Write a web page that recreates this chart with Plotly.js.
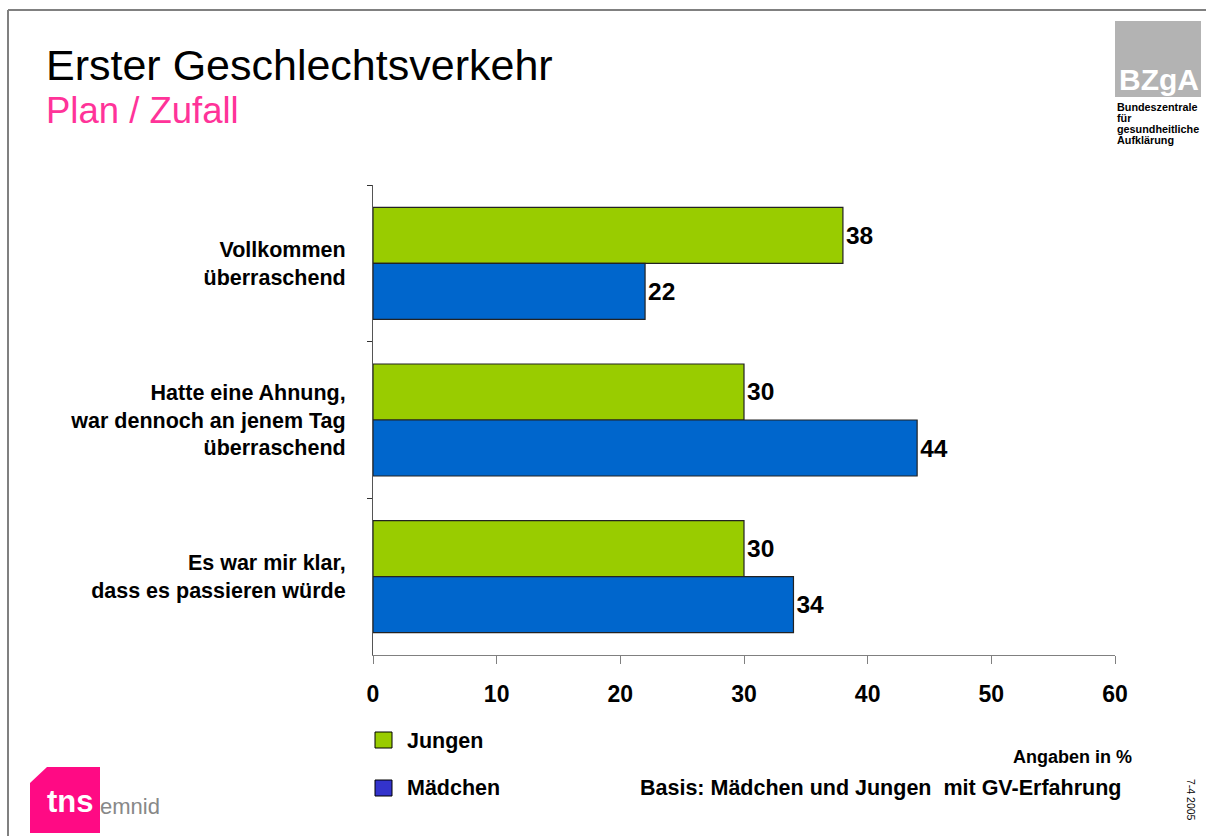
<!DOCTYPE html>
<html><head><meta charset="utf-8">
<script src="https://cdn.plot.ly/plotly-3.0.1.min.js"></script>
<style>html,body{margin:0;padding:0;background:#fff}#chart{width:1206px;height:836px}</style>
</head><body><div id="chart"></div>
<script>
const categories = ["Vollkommen<br>überraschend", "Hatte eine Ahnung,<br>war dennoch an jenem Tag<br>überraschend", "Es war mir klar,<br>dass es passieren würde"];
const seriesNames = ["Jungen", "Mädchen"];
const jungen = [38, 30, 30];
const maedchen = [22, 44, 34];
const xTicks = [0, 10, 20, 30, 40, 50, 60];

const L = 373, T = 185, R = 1115, B = 655;
const PW = R - L, PH = B - T;
const X = px => (px - L) / PW;
const Y = py => 1 - (py - T) / PH;

const sans = "Liberation Sans, Arial, sans-serif";

const barColors = ["#99cc00", "#0066cc"];
const legendColors = ["#99cc00", "#3333cc"];

const traces = [jungen, maedchen].map((vals, i) => ({
  type: "bar", orientation: "h", name: seriesNames[i],
  x: vals, y: categories,
  marker: {color: barColors[i], line: {color: "#222", width: 1.2}},
  text: vals.map(String), textposition: "outside", cliponaxis: false,
  textfont: {family: sans, size: 24.5, color: "#000", weight: 700},
  hoverinfo: "skip"
}));

const shapes = [
  // frame
  {type: "line", xref: "paper", yref: "paper", x0: X(8), x1: X(1206), y0: Y(10), y1: Y(10), line: {color: "#808080", width: 2}},
  {type: "line", xref: "paper", yref: "paper", x0: X(8), x1: X(8), y0: Y(10), y1: Y(836), line: {color: "#808080", width: 2}},
  // BZgA logo box
  {type: "rect", xref: "paper", yref: "paper", x0: X(1115), x1: X(1201), y0: Y(21), y1: Y(97), fillcolor: "#b3b3b3", line: {width: 0}},
  // tns logo
  {type: "path", xref: "paper", yref: "paper",
   path: `M ${X(47)} ${Y(767)} L ${X(100)} ${Y(767)} L ${X(100)} ${Y(833)} L ${X(30)} ${Y(833)} L ${X(30)} ${Y(783)} Z`,
   fillcolor: "#ff0a84", line: {width: 0}},
  // legend squares
  {type: "rect", xref: "paper", yref: "paper", x0: X(375), x1: X(392), y0: Y(732), y1: Y(748), fillcolor: legendColors[0], line: {color: "#000", width: 1}},
  {type: "rect", xref: "paper", yref: "paper", x0: X(375), x1: X(392), y0: Y(780), y1: Y(796), fillcolor: legendColors[1], line: {color: "#000", width: 1}}
];

const ann = (x, y, text, size, opts = {}) => Object.assign({
  xref: "paper", yref: "paper", x: X(x), y: Y(y), text, showarrow: false,
  xanchor: "left", yanchor: "middle", font: {family: sans, size, color: "#000"}
}, opts);

const annotations = [
  ann(44, 65, "Erster Geschlechtsverkehr", 43),
  ann(44, 110, "Plan / Zufall", 36.5, {font: {family: sans, size: 36.5, color: "#ff3399"}}),
  ann(1159, 79, "<b>BZgA</b>", 30, {xanchor: "center", font: {family: sans, size: 30, color: "#fff"}}),
  ann(1115, 106.5, "<b>Bundeszentrale</b>", 10.8),
  ann(1115, 117.5, "<b>für</b>", 10.8),
  ann(1115, 129, "<b>gesundheitliche</b>", 10.8),
  ann(1115, 139.5, "<b>Aufklärung</b>", 10.8),
  ann(45, 801, "<b>tns</b>", 31, {font: {family: sans, size: 31, color: "#fff"}}),
  ann(98, 806, "emnid", 22, {font: {family: sans, size: 22, color: "#888"}}),
  ann(405, 741, "<b>" + seriesNames[0] + "</b>", 21.5),
  ann(405, 788, "<b>" + seriesNames[1] + "</b>", 21.5),
  ann(1134, 757, "<b>Angaben in %</b>", 18, {xanchor: "right"}),
  ann(1123, 788, "<b>Basis: Mädchen und Jungen  mit GV-Erfahrung</b>", 21.5, {xanchor: "right"}),
  ann(1191, 800, "7-4 2005", 10.5, {xanchor: "center", textangle: 90})
];

const layout = {
  width: 1206, height: 836,
  margin: {l: L, r: 1206 - R, t: T, b: 836 - B, pad: 0},
  paper_bgcolor: "#fff", plot_bgcolor: "#fff",
  showlegend: false, barmode: "group", bargap: 0.285, bargroupgap: 0,
  xaxis: {
    range: [0, 60], tickvals: xTicks, ticktext: xTicks.map(String),
    showgrid: false, zeroline: false, showline: true, linecolor: "#808080", linewidth: 1,
    ticks: "outside", ticklen: 8, tickcolor: "#808080", tickwidth: 1,
    tickfont: {family: sans, size: 23, color: "#000", weight: 700},
    ticklabelstandoff: 10
  },
  yaxis: {
    categoryorder: "array", categoryarray: categories, autorange: "reversed",
    showgrid: false, zeroline: false, showline: true, linecolor: "#555", linewidth: 1,
    ticks: "outside", ticklen: 5, tickcolor: "#333", tickson: "boundaries",
    tickfont: {family: sans, size: 21.5, color: "#000", weight: 700},
    ticklabelstandoff: 22
  },
  shapes, annotations,
  font: {family: sans}
};

Plotly.newPlot("chart", traces, layout, {displayModeBar: false, staticPlot: true});
</script>
</body></html>
